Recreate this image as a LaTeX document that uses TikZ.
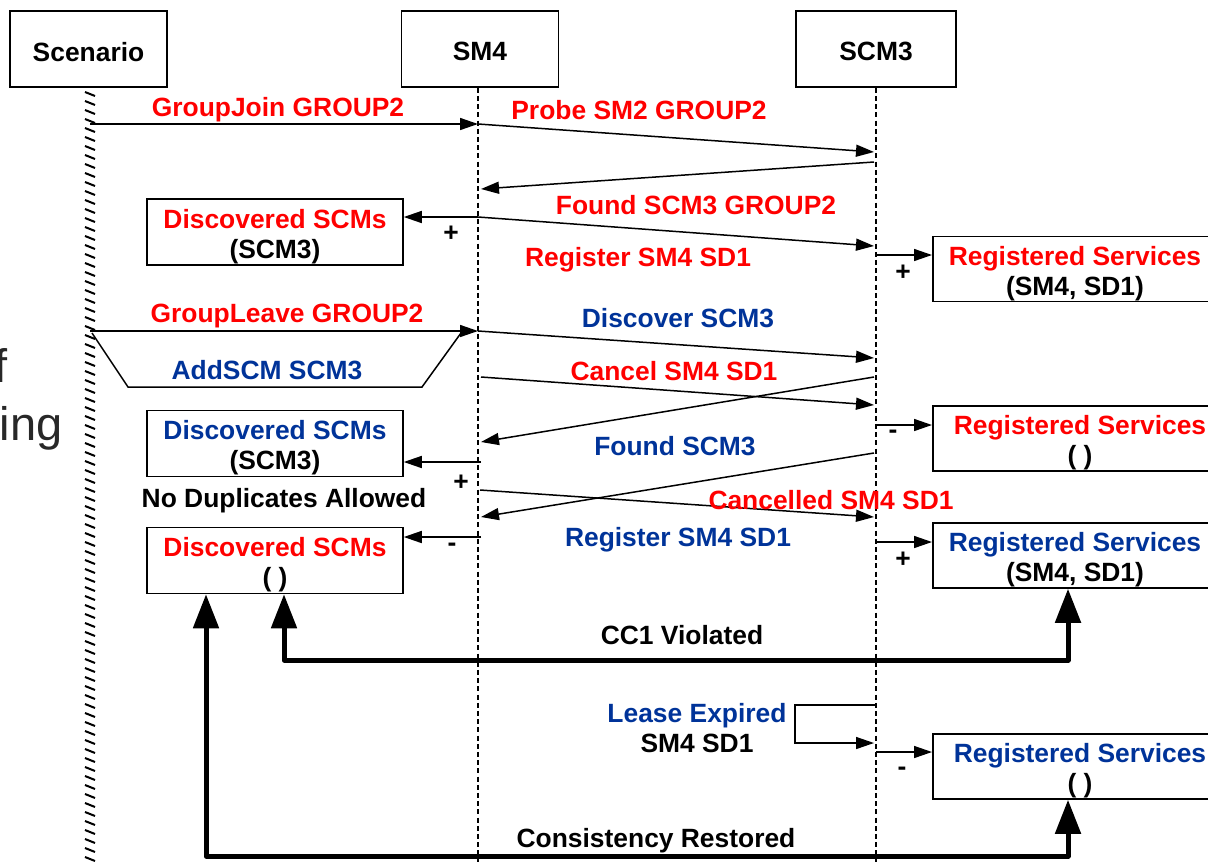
\documentclass[tikz,border=0pt]{standalone}
\usepackage{fontspec}
\setmainfont{Liberation Sans}
\usetikzlibrary{arrows.meta}
\definecolor{myred}{RGB}{255,0,0}
\definecolor{myblue}{RGB}{0,51,153}
\definecolor{slidegray}{RGB}{40,40,40}
\begin{document}
\begin{tikzpicture}[x=0.5pt,y=-0.5pt,
  every node/.style={font=\fontsize{13.2}{15}\selectfont\bfseries, inner sep=0pt},
  box/.style={draw, line width=0.75pt, align=center, fill=white},
  hdr/.style={box, minimum width=78.5pt, minimum height=38pt},
  dbox/.style={box, minimum width=128pt, minimum height=33pt},
  rbox/.style={box, anchor=west, minimum height=32.5pt},
  btext/.style={align=center, yshift=-2.2pt},
  lbl/.style={yshift=-1.3pt},
  life/.style={line width=1pt, dash pattern=on 2.5pt off 1.6pt},
  msg/.style={-{Triangle[length=9pt,width=6pt]}, line width=0.75pt},
  plain/.style={line width=0.75pt},
  bigarrow/.style={{Triangle[length=17pt,width=12.5pt]}-{Triangle[length=17pt,width=12.5pt]}, line width=2.5pt, line join=round},
  red/.style={text=myred}, blue/.style={text=myblue}
]
\useasboundingbox (0,0) rectangle (1208,862);

% slide text fragments at left border
\node[anchor=base east, font=\fontsize{23.5}{28}\selectfont, text=slidegray] (fragf) at (8,382) {f};
\node[anchor=base east, font=\fontsize{23.5}{28}\selectfont, text=slidegray] (fraging) at (63,440) {ing};

% header boxes
\node[hdr] (scen) at (88.5,49) {};
\node[lbl] (scent) at (scen) {Scenario};
\node[hdr] (sm4) at (480,49) {};
\node[lbl] (sm4t) at (sm4) {SM4};
\node[hdr, minimum width=80pt] (scm3) at (876,49) {};
\node[lbl] (scm3t) at (scm3) {SCM3};

% lifelines
\foreach \yy in {92,101,...,858} {\draw[line width=1pt] (85,\yy) -- (95,\yy+4);}
\coordinate (sm4end) at (478,862);
\coordinate (scm3end) at (876,862);
\draw[life] (sm4.south -| sm4end) -- (sm4end);
\draw[life] (scm3.south -| scm3end) -- (scm3end);

% state boxes
\node[dbox] (ds1) at (275,232) {};
\node[btext] (ds1t) at (ds1) {\textcolor{myred}{Discovered SCMs}\\(SCM3)};
\node[dbox] (ds2) at (275,443.5) {};
\node[btext] (ds2t) at (ds2) {\textcolor{myblue}{Discovered SCMs}\\(SCM3)};
\node[dbox] (ds3) at (275,560.5) {};
\node[btext] (ds3t) at (ds3) {\textcolor{myred}{Discovered SCMs}\\( )};
\node[rbox, minimum width=144pt] (rs1) at (932,269) {};
\node[btext] (rs1t) at (1075,269) {\textcolor{myred}{Registered Services}\\(SM4, SD1)};
\node[rbox, minimum width=148pt] (rs2) at (932,438.5) {};
\node[btext] (rs2t) at (1080,438.5) {\textcolor{myred}{Registered Services}\\( )};
\node[rbox, minimum width=144pt] (rs3) at (932,555.5) {};
\node[btext] (rs3t) at (1075,555.5) {\textcolor{myblue}{Registered Services}\\(SM4, SD1)};
\node[rbox, minimum width=148pt] (rs4) at (932,766.5) {};
\node[btext] (rs4t) at (1080,766.5) {\textcolor{myblue}{Registered Services}\\( )};

% message endpoints
\coordinate (a1) at (90,124);   \coordinate (b1) at (478,124);
\coordinate (c2) at (874,152);
\coordinate (c3) at (874,162);  \coordinate (b3) at (481,189);
\coordinate (b4) at (478,217);  \coordinate (c5) at (874,246);
\coordinate (c6) at (876,255);
\coordinate (a7) at (90,331);   \coordinate (b7) at (478,331);
\coordinate (c8) at (874,358);
\coordinate (b9) at (481,377);  \coordinate (c9) at (874,405);
\coordinate (c10) at (874,377); \coordinate (b10) at (481,442);
\coordinate (c11) at (876,425);
\coordinate (b12) at (481,462);
\coordinate (c13) at (874,453); \coordinate (b13) at (481,517);
\coordinate (b14) at (480,490); \coordinate (c14) at (874,517);
\coordinate (b15) at (481,537);
\coordinate (c16) at (876,542);
\coordinate (c17a) at (876,705); \coordinate (lx) at (795,743); \coordinate (c17b) at (874,743);
\coordinate (c18) at (876,752);
\coordinate (tr1) at (92,333); \coordinate (tr2) at (128,387); \coordinate (tr3) at (422,387); \coordinate (tr4) at (461,333);

% messages
\draw[msg] (a1) -- (b1);
\draw[msg] (b1) -- (c2);
\draw[msg] (c3) -- (b3);
\draw[msg] (b4) -- (b4 -| ds1.east);
\draw[msg] (b4) -- (c5);
\draw[msg] (c6) -- (c6 -| rs1.west);
\draw[msg] (a7) -- (b7);
\draw[plain] (tr1) -- (tr2) -- (tr3) -- (tr4);
\draw[msg] (b7) -- (c8);
\draw[msg] (b9) -- (c9);
\draw[msg] (c10) -- (b10);
\draw[msg] (c11) -- (c11 -| rs2.west);
\draw[msg] (b12) -- (b12 -| ds2.east);
\draw[msg] (c13) -- (b13);
\draw[msg] (b14) -- (c14);
\draw[msg] (b15) -- (b15 -| ds3.east);
\draw[msg] (c16) -- (c16 -| rs3.west);
\draw[msg] (c17a) -| (lx) -- (c17b);
\draw[msg] (c18) -- (c18 -| rs4.west);

% consistency arrows
\coordinate (t1a) at (284,660); \coordinate (t1b) at (1068,660);
\coordinate (t2a) at (206,856); \coordinate (t2b) at (1068,856);
\draw[bigarrow] (ds3.south -| t1a) -- (t1a) -- (t1b) -- (rs3.south -| t1b);
\draw[bigarrow] (ds3.south -| t2a) -- (t2a) -- (t2b) -- (rs4.south -| t2b);

% labels
\node[lbl, red] (l1) at (278,107) {GroupJoin GROUP2};
\node[lbl, red] (l2) at (639,107) {Probe SM2 GROUP2};
\node[lbl, red] (l3) at (696,202) {Found SCM3 GROUP2};
\node[lbl, red] (l5) at (638,257) {Register SM4 SD1};
\node[lbl] (p1) at (451,231) {+};
\node[lbl] (p2) at (903,270) {+};
\node[lbl, red] (l7) at (287,313) {GroupLeave GROUP2};
\node[lbl, blue] (l7b) at (267,367) {AddSCM SCM3};
\node[lbl, blue] (l8) at (678,315) {Discover SCM3};
\node[lbl, red] (l9) at (674,368) {Cancel SM4 SD1};
\node[lbl, blue] (l10) at (675,443) {Found SCM3};
\node[lbl] (p3) at (893,432) {-};
\node[lbl] (p4) at (461,480) {+};
\node[lbl] (nd) at (284,498) {No Duplicates Allowed};
\node[lbl, red] (l13) at (831,497) {Cancelled SM4 SD1};
\node[lbl, blue] (l14) at (678,537) {Register SM4 SD1};
\node[lbl] (p5) at (452,545) {-};
\node[lbl] (p6) at (903,557) {+};
\node[lbl] (cc1) at (682,632) {CC1 Violated};
\node[align=center] (lease) at (697,728) {\textcolor{myblue}{Lease Expired}\\SM4 SD1};
\node[lbl] (p7) at (902,769) {-};
\node[lbl] (cr) at (656,838) {Consistency Restored};
\end{tikzpicture}
\end{document}
